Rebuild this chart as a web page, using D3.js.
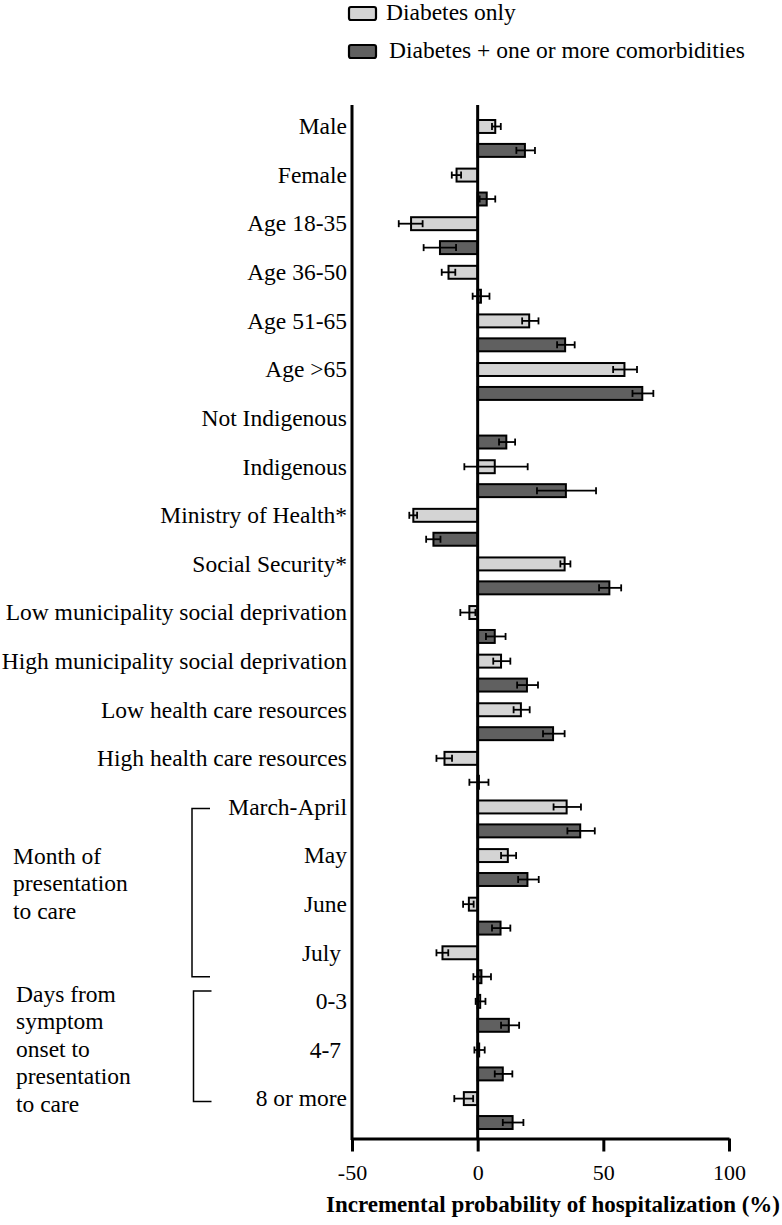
<!DOCTYPE html>
<html>
<head>
<meta charset="utf-8">
<script src="https://cdn.jsdelivr.net/npm/d3@7"></script>
<style>
  html, body { margin: 0; padding: 0; background: #fff; }
  svg { display: block; }
  text { font-family: "Liberation Serif", "Times New Roman", serif; fill: #000; }
</style>
</head>
<body>
<div id="chart"></div>
<script>
const categories = [
  "Male", "Female", "Age 18-35", "Age 36-50", "Age 51-65", "Age >65",
  "Not Indigenous", "Indigenous", "Ministry of Health*", "Social Security*",
  "Low municipality social deprivation", "High municipality social deprivation",
  "Low health care resources", "High health care resources",
  "March-April", "May", "June", "July ", "0-3", "4-7 ", "8 or more"
];
const seriesNames = ["Diabetes only", "Diabetes + one or more comorbidities"];

const diabetesOnly     = [7.0, -8.4, -26.5, -11.6, 20.5, 58.4, null, 6.8, -25.6, 34.6, -3.3, 9.3, 17.2, -13.2, 35.4, 12.0, -3.5, -14.0, 1.0, 0.6, -5.5];
const diabetesOnlyLow  = [5.7, -10.3, -31.4, -14.3, 17.7, 53.9, null, -5.3, -27.2, 32.9, -6.9, 6.2, 14.3, -16.4, 30.2, 9.3, -5.8, -16.4, -0.8, -1.3, -9.3];
const diabetesOnlyHigh = [9.2, -6.6, -21.9, -8.9, 24.2, 63.4, null, 19.9, -24.1, 36.9, -0.9, 13.0, 20.7, -10.2, 41.1, 15.3, -1.6, -11.7, 3.1, 2.8, -1.8];

const comorbid     = [18.8, 3.6, -15.0, 1.3, 34.8, 65.5, 11.4, 35.1, -17.6, 52.4, 6.8, 19.6, 30.0, 0.5, 40.8, 19.8, 9.1, 1.5, 12.4, 10.0, 13.9];
const comorbidLow  = [15.4, 0.8, -21.5, -2.0, 31.6, 61.6, 8.5, 23.6, -20.5, 48.3, 3.3, 15.7, 26.0, -3.3, 35.7, 16.1, 5.7, -1.7, 9.3, 6.8, 10.0];
const comorbidHigh = [22.8, 7.0, -8.6, 4.7, 38.6, 69.9, 14.9, 47.1, -14.8, 57.1, 11.1, 24.0, 34.6, 4.3, 46.6, 24.3, 13.0, 5.3, 16.5, 13.8, 18.2];

const xTicks = [-50, 0, 50, 100];
const xTitle = "Incremental probability of hospitalization (%)";

const groups = [
  { lines: ["Month of", "presentation", "to care"], from: "March-April", to: "July " },
  { lines: ["Days from", "symptom", "onset to", "presentation", "to care"], from: "0-3", to: "8 or more" }
];

const colors = ["#d4d4d4", "#606060"];

const W = 782, H = 1225;
const svg = d3.select("#chart").append("svg").attr("width", W).attr("height", H);

const x = d3.scaleLinear().domain([-50, 100]).range([352, 729]);
const y = d3.scaleBand().domain(categories).range([119, 1130]).paddingInner(0.2).paddingOuter(0);
const sub = d3.scaleBand().domain([0, 1]).range([0, y.bandwidth()]).paddingInner(0.375);

const rows = categories.map((c, i) => ({
  cat: c,
  vals: [
    { s: 0, v: diabetesOnly[i], lo: diabetesOnlyLow[i], hi: diabetesOnlyHigh[i] },
    { s: 1, v: comorbid[i], lo: comorbidLow[i], hi: comorbidHigh[i] }
  ]
}));

const fs = 23.5;

// legend
const leg = svg.append("g");
const legY = [13.5, 51.5];
const legTextX = [386, 389];
seriesNames.forEach((n, i) => {
  leg.append("rect").attr("x", 349).attr("y", legY[i] - 6.5).attr("width", 27).attr("height", 13)
    .attr("rx", 2).attr("fill", colors[i]).attr("stroke", "#000").attr("stroke-width", 2.2);
  leg.append("text").attr("x", legTextX[i]).attr("y", legY[i] + 6.5).attr("font-size", fs).text(n);
});

// bars
const barG = svg.append("g");
rows.forEach(r => {
  r.vals.forEach(d => {
    if (d.v === null) return;
    const yy = y(r.cat) + sub(d.s);
    const h = sub.bandwidth();
    barG.append("rect")
      .attr("x", Math.min(x(0), x(d.v)))
      .attr("y", yy + 1)
      .attr("width", Math.abs(x(d.v) - x(0)))
      .attr("height", h - 2)
      .attr("fill", colors[d.s])
      .attr("stroke", "#000")
      .attr("stroke-width", 2);
    const cy = yy + h / 2;
    barG.append("line").attr("x1", x(d.lo)).attr("x2", x(d.hi)).attr("y1", cy).attr("y2", cy)
      .attr("stroke", "#000").attr("stroke-width", 1.8);
    [d.lo, d.hi].forEach(e => {
      barG.append("line").attr("x1", x(e)).attr("x2", x(e)).attr("y1", cy - 3.5).attr("y2", cy + 3.5)
        .attr("stroke", "#000").attr("stroke-width", 1.8);
    });
  });
});

// category labels
const labG = svg.append("g");
categories.forEach(c => {
  labG.append("text")
    .attr("x", 347)
    .attr("y", y(c) + sub(0) + sub.bandwidth() / 2 + 7.8)
    .attr("text-anchor", "end")
    .attr("font-size", fs)
    .style("white-space", "pre")
    .text(c);
});

// vertical axis lines
const axisBottomY = 1138.5;
svg.append("line").attr("x1", x(-50)).attr("x2", x(-50)).attr("y1", 105).attr("y2", axisBottomY + 1.5)
  .attr("stroke", "#000").attr("stroke-width", 3);
svg.append("line").attr("x1", x(0)).attr("x2", x(0)).attr("y1", 105).attr("y2", axisBottomY)
  .attr("stroke", "#000").attr("stroke-width", 3);

// bottom axis
const ax = svg.append("g").attr("transform", `translate(0,${axisBottomY})`)
  .call(d3.axisBottom(x).tickValues(xTicks).tickSize(13).tickSizeOuter(0).tickPadding(13).tickFormat(d => String(d)));
ax.select(".domain").attr("stroke", "#000").attr("stroke-width", 3);
ax.selectAll(".tick line").attr("stroke", "#000").attr("stroke-width", 3);
ax.selectAll(".tick text").attr("font-size", 22).attr("font-family", "'Liberation Serif', 'Times New Roman', serif").attr("fill", "#000");

svg.append("text").attr("x", 553).attr("y", 1212).attr("text-anchor", "middle")
  .attr("font-size", 23).attr("font-weight", "bold").text(xTitle);

// group brackets
const brG = svg.append("g");
const grpX = [13, 16];
const brX = [192, 193.5];
const brTop = [9, -3];
const brBot = [16.5, -4.5];
const grpFirstBase = [863.5, 1001.5];
groups.forEach((g, gi) => {
  const y1 = y(g.from) + brTop[gi];
  const y2 = y(g.to) + sub(0) + sub.bandwidth() + brBot[gi];
  brG.append("path")
    .attr("d", `M${brX[gi] + 18},${y1}H${brX[gi]}V${y2}H${brX[gi] + 18}`)
    .attr("fill", "none").attr("stroke", "#000").attr("stroke-width", 1.5);
  g.lines.forEach((t, li) => {
    brG.append("text").attr("x", grpX[gi]).attr("y", grpFirstBase[gi] + li * 27.5)
      .attr("font-size", fs).text(t);
  });
});
</script>
</body>
</html>
